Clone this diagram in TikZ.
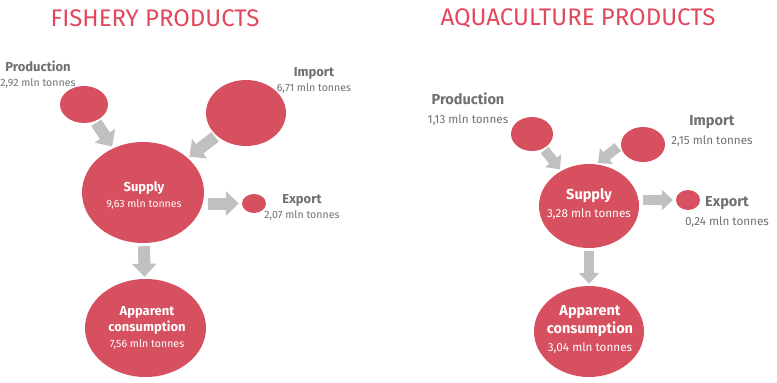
\documentclass[tikz,border=0pt]{standalone}
\usepackage{fontspec}
\setmainfont{Fira Sans}
\usetikzlibrary{shapes.geometric,arrows.meta,positioning}
\definecolor{blobred}{RGB}{214,80,95}
\definecolor{titlered}{RGB}{226,72,92}
\definecolor{flowgray}{RGB}{192,192,192}
\definecolor{txtgray}{RGB}{112,112,112}
\newcommand{\hdL}[1]{{\fontsize{13}{15}\selectfont\bfseries #1}}
\newcommand{\hdR}[1]{{\fontsize{14.5}{18}\selectfont\bfseries #1}}

\begin{document}
\begin{tikzpicture}[
        x=1pt, y=-1pt, % координаты в пикселях
        blob/.style={ellipse, fill=blobred, inner sep=0pt}, % эллипсы
        title/.style={text=titlered, font=\fontsize{24}{28}\selectfont},
        lblL/.style={text=txtgray, align=center, font=\fontsize{10.6}{15}\selectfont},
        lblR/.style={text=txtgray, align=center, font=\fontsize{11.7}{19}\selectfont},
        inL/.style={text=white, align=center, font=\fontsize{10.6}{16}\selectfont},
        inR/.style={text=white, align=center, font=\fontsize{11.7}{18}\selectfont},
        flowL/.style={draw=flowgray, line width=12pt, -{Triangle[width=24pt,length=13pt]}, shorten <=2pt, shorten >=2pt},
        flowR/.style={draw=flowgray, line width=10pt, -{Triangle[width=20pt,length=11pt]}, shorten <=2pt, shorten >=2pt},
    ]
    \useasboundingbox (0,0) rectangle (777,383);

    % рыболовство
    \node[title] (ftitle) at (155,18) {FISHERY PRODUCTS};
    \node[blob, minimum width=48pt, minimum height=37pt] (fprod) at (84,104.5) {};
    \node[blob, minimum width=80pt, minimum height=66pt] (fimp) at (246,113) {};
    \node[blob, minimum width=122pt, minimum height=101pt] (fsup) at (143,192.5) {};
    \node[blob, minimum width=24pt, minimum height=19pt] (fexp) at (254,203.5) {};
    \node[blob, minimum width=121pt, minimum height=98pt] (fcons) at (145.5,328) {};

    \node[lblL] (fprodtxt) at (38,75) {\hdL{Production}\\2,92 mln tonnes};
    \node[lblL] (fimptxt) at (314,80) {\hdL{Import}\\6,71 mln tonnes};
    \node[lblL] (fexptxt) at (302,207) {\hdL{Export}\\2,07 mln tonnes};
    \node[inL] (fsuptxt) at (144,195) {\hdL{Supply}\\9,63 mln tonnes};
    \node[inL] (fconstxt) at (147,328) {\hdL{Apparent}\\\hdL{consumption}\\7,56 mln tonnes};

    \draw[flowL] (fprod) -- (fsup);
    \draw[flowL] (fimp) -- (fsup);
    \draw[flowL, shorten <=4pt, shorten >=3pt] (fsup.east |- fexp) -- (fexp);
    \draw[flowL, shorten <=3pt] (fsup) -- (fcons);

    % аквакультура
    \node[title] (atitle) at (578,18) {AQUACULTURE PRODUCTS};
    \node[blob, minimum width=42pt, minimum height=34pt] (aprod) at (532,134) {};
    \node[blob, minimum width=44pt, minimum height=35pt] (aimp) at (643,144.5) {};
    \node[blob, minimum width=100pt, minimum height=84pt] (asup) at (589,206) {};
    \node[blob, minimum width=24pt, minimum height=20pt] (aexp) at (688,200) {};
    \node[blob, minimum width=110pt, minimum height=91pt] (acons) at (589,331.5) {};

    \node[lblR] (aprodtxt) at (468,109) {\hdR{Production}\\1,13 mln tonnes};
    \node[lblR] (aimptxt) at (712,131) {\hdR{Import}\\2,15 mln tonnes};
    \node[lblR] (aexptxt) at (727,212) {\hdR{Export}\\0,24 mln tonnes};
    \node[inR] (asuptxt) at (589,204) {\hdR{Supply}\\3,28 mln tonnes};
    \node[inR] (aconstxt) at (590,329) {\hdR{Apparent}\\\hdR{consumption}\\3,04 mln tonnes};

    \draw[flowR] (aprod) -- (asup);
    \draw[flowR, shorten <=4pt] (aimp.west) -- (asup.80);
    \draw[flowR, shorten <=4pt, shorten >=3pt] (asup.east |- aexp) -- (aexp);
    \draw[flowR, shorten <=3pt] (asup) -- (acons);
\end{tikzpicture}
\end{document}
